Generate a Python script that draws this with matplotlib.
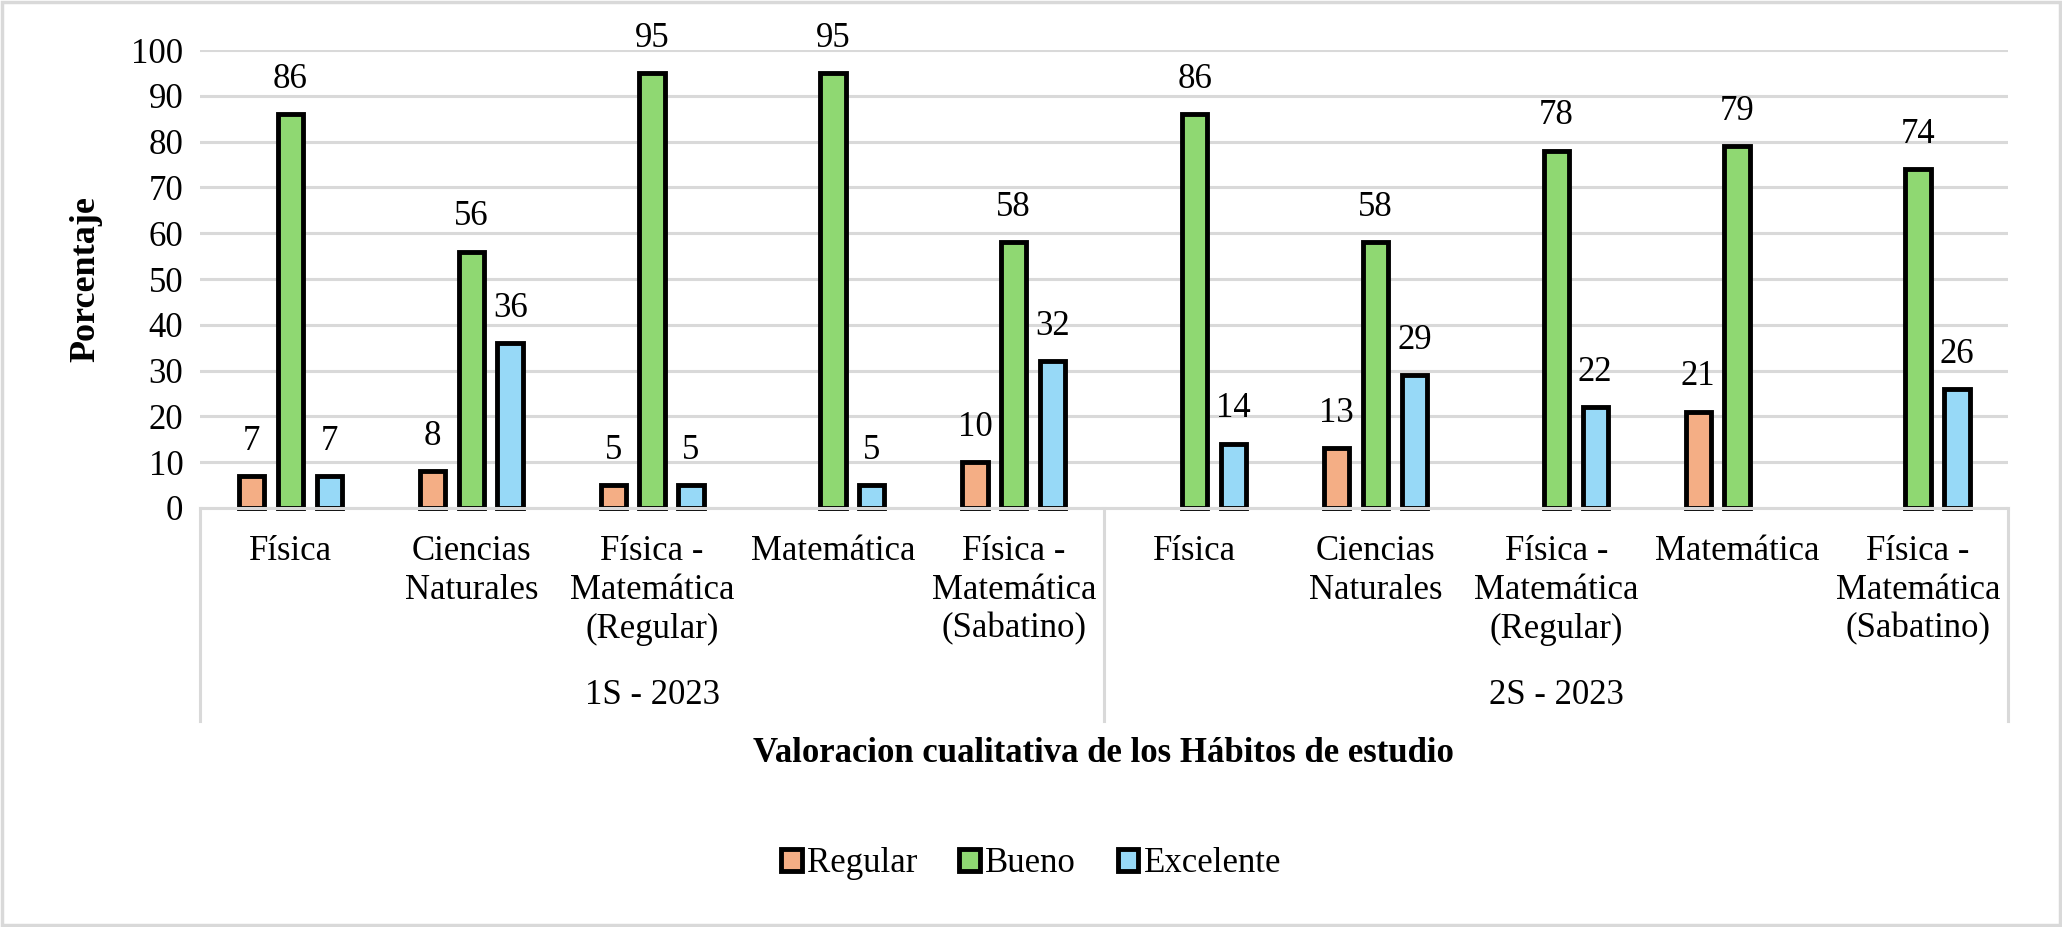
import numpy as np
import matplotlib
matplotlib.use("Agg")
import matplotlib.pyplot as plt
import matplotlib.transforms as mtransforms
from matplotlib.patches import Rectangle

plt.rcParams['font.family'] = ['Liberation Serif', 'DejaVu Serif']

categorias = ["Física", "Ciencias\nNaturales", "Física -\nMatemática\n(Regular)",
              "Matemática", "Física -\nMatemática\n(Sabatino)"] * 2
grupos = ["1S - 2023", "2S - 2023"]
series = ["Regular", "Bueno", "Excelente"]
regular = [7, 8, 5, np.nan, 10, np.nan, 13, np.nan, 21, np.nan]
bueno = [86, 56, 95, 95, 58, 86, 58, 78, 79, 74]
excelente = [7, 36, 5, 5, 32, 14, 29, 22, np.nan, 26]
colores = ["#F4AE85", "#8FD872", "#97D9F7"]

fs = 25
grid_c = "#D9D9D9"

fig = plt.figure(figsize=(20.62, 9.27), dpi=100)
ax = fig.add_axes([0.097, 0.452, 0.877, 0.494])

x = np.arange(len(categorias))
w = 0.14
paso = 0.215
handles = []
for k, (vals, col, nom) in enumerate(zip([regular, bueno, excelente], colores, series)):
    pos = x + (k - 1) * paso
    bars = ax.bar(pos, vals, w, color=col, edgecolor="black", linewidth=3.5,
                  zorder=3, clip_on=False, label=nom)
    handles.append(bars)
    for xi, v in zip(pos, vals):
        if np.isnan(v):
            continue
        ax.annotate(f"{v:.0f}", (xi, v), xytext=(0, 19), textcoords="offset points",
                    ha="center", va="baseline", fontsize=fs)

ax.set_ylim(0, 100)
ax.set_xlim(-0.5, len(categorias) - 0.5)
ax.set_yticks(np.arange(0, 101, 10))
ax.tick_params(axis="y", length=0, pad=12, labelsize=fs)
ax.set_xticks([])
ax.yaxis.grid(True, color=grid_c, linewidth=2.2, zorder=0)
ax.set_axisbelow(True)
for s in ax.spines.values():
    s.set_visible(False)
ax.axhline(0, color=grid_c, linewidth=2.2, zorder=5, clip_on=False)

# category and group labels
trans = mtransforms.blended_transform_factory(ax.transData, ax.transAxes)
for xi, c in zip(x, categorias):
    ax.text(xi, -0.058, c, transform=trans, ha="center", va="top", fontsize=fs,
            linespacing=1.24)
for g, nom in enumerate(grupos):
    ax.text(g * 5 + 2, -0.41, nom, transform=trans, ha="center", va="center", fontsize=fs)
for xs in [-0.5, 4.5, 9.5]:
    ax.plot([xs, xs], [0, -0.465], transform=trans, color=grid_c, linewidth=2.2,
            clip_on=False)

ax.set_ylabel("Porcentaje", fontsize=fs + 1, fontweight="bold")
ax.yaxis.set_label_coords(-0.054, 0.5)
fig.text(0.535, 1 - 754 / 927, "Valoracion cualitativa de los Hábitos de estudio",
         ha="center", va="center", fontsize=fs, fontweight="bold")

fig.legend(handles=handles, labels=series, loc="center", bbox_to_anchor=(0.5, 1 - 864 / 927),
           ncol=3, frameon=False, fontsize=fs, handlelength=0.6, handleheight=0.6,
           handletextpad=0.15, columnspacing=1.2)

fig.patches.append(Rectangle((0.001, 0.002), 0.998, 0.996, transform=fig.transFigure,
                             fill=False, edgecolor=grid_c, linewidth=2.5))

fig.savefig("out.png", dpi=100)
